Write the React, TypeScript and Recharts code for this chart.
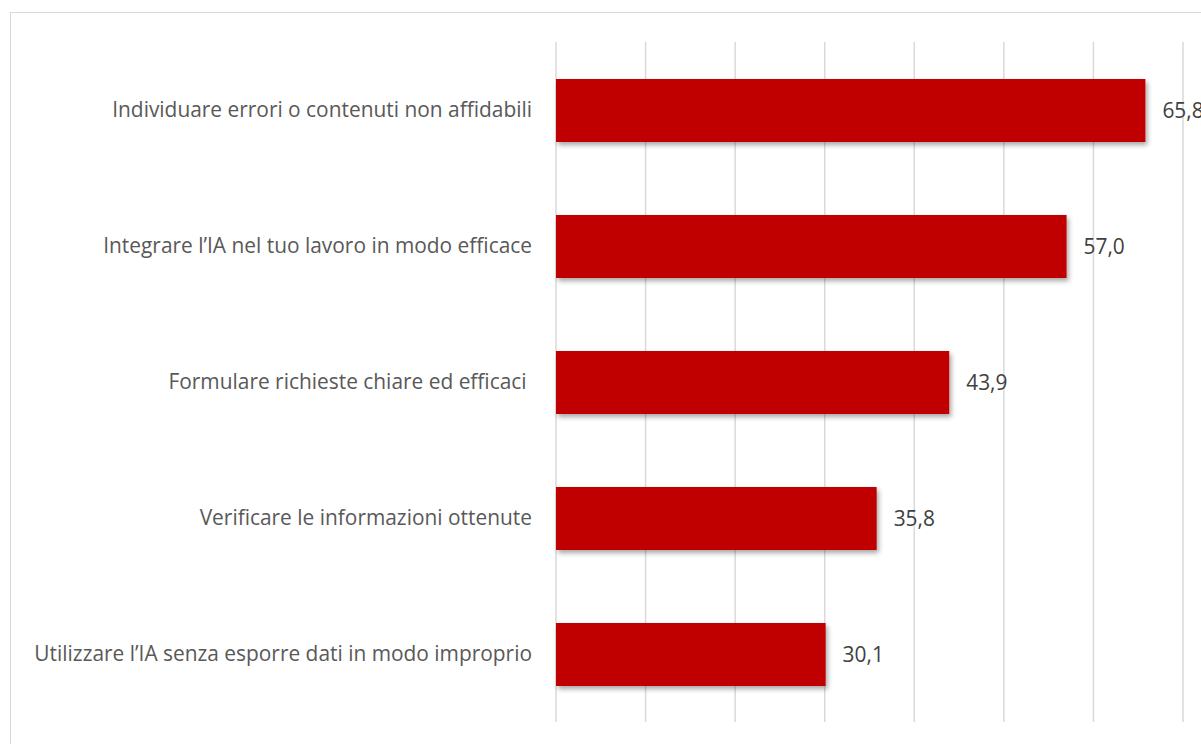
import { Bar, BarChart, CartesianGrid, LabelList, XAxis, YAxis } from 'recharts';

// Competenze IA: quota di rispondenti (%)
const categories = [
  'Individuare errori o contenuti non affidabili',
  'Integrare l\u2019IA nel tuo lavoro in modo efficace',
  'Formulare richieste chiare ed efficaci ',
  'Verificare le informazioni ottenute',
  'Utilizzare l\u2019IA senza esporre dati in modo improprio',
];
const values = [65.8, 57.0, 43.9, 35.8, 30.1];
const xTicks = [0, 10, 20, 30, 40, 50, 60, 70];

const data = categories.map((name, i) => ({ name, value: values[i] }));

const FONT = '"Open Sans", "Liberation Sans", sans-serif';

const CategoryTick = (props: any) => {
  const { x, y, payload } = props;
  return (
    <text
      x={x}
      y={y}
      dy={7}
      textAnchor="end"
      fill="#595959"
      fontSize={20.9}
      fontFamily={FONT}
      style={{ whiteSpace: 'pre' }}
    >
      {payload.value}
    </text>
  );
};

const ShadowBar = (props: any) => {
  const { x, y, width, height } = props;
  return <rect x={x} y={y} width={width} height={height} fill="#C00000" filter="url(#barShadow)" />;
};

export default function App() {
  return (
    <div style={{ position: 'absolute', left: 0, top: 0, width: 1201, height: 744, overflow: 'hidden', background: '#fff' }}>
      <svg width={0} height={0} style={{ position: 'absolute' }}>
        <defs>
          <filter id="barShadow" x="-10%" y="-20%" width="130%" height="150%">
            <feDropShadow dx={2} dy={3} stdDeviation={2.5} floodColor="#000" floodOpacity={0.35} />
          </filter>
        </defs>
      </svg>
      {/* cornice del grafico */}
      <div
        style={{
          position: 'absolute',
          left: 10,
          top: 12,
          width: 1260,
          height: 800,
          border: '1.5px solid #d9d9d9',
        }}
      />
      <div style={{ position: 'absolute', left: 0, top: 0 }}>
        <BarChart
          width={1201}
          height={744}
          data={data}
          layout="vertical"
          margin={{ top: 42, right: 18, bottom: 22, left: 0 }}
        >
          <CartesianGrid horizontal={false} stroke="#d9d9d9" strokeWidth={1.5} />
          <XAxis type="number" domain={[0, 70]} ticks={xTicks} hide />
          <YAxis
            type="category"
            dataKey="name"
            width={556}
            axisLine={false}
            tickLine={false}
            tickMargin={18}
            tick={<CategoryTick />}
            interval={0}
          />
          <Bar dataKey="value" barSize={63} isAnimationActive={false} shape={<ShadowBar />}>
            <LabelList
              dataKey="value"
              position="right"
              offset={17}
              fill="#404040"
              fontSize={20.9}
              fontFamily={FONT}
              formatter={(v: any) => Number(v).toFixed(1).replace('.', ',')}
            />
          </Bar>
        </BarChart>
      </div>
    </div>
  );
}
